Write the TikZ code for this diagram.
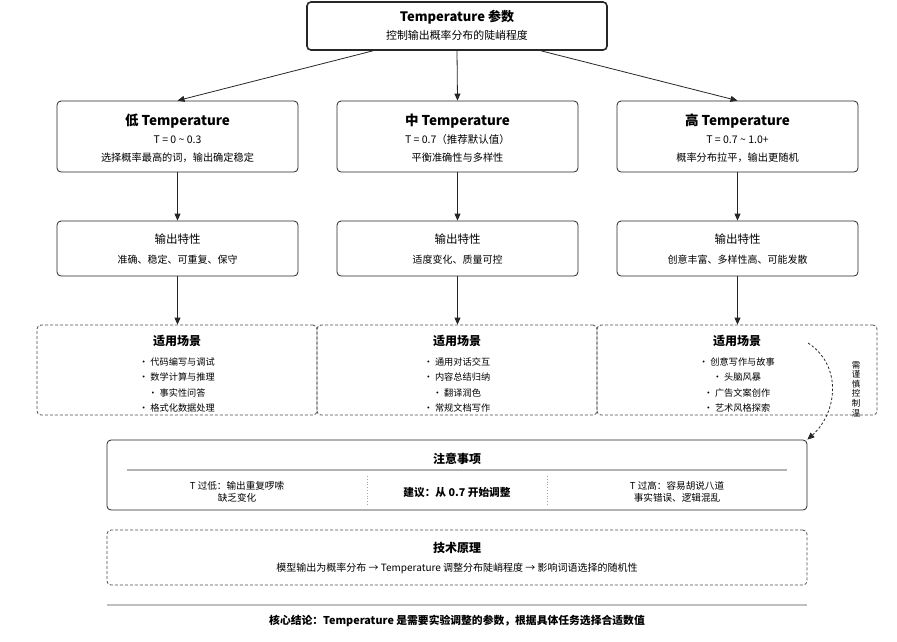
\documentclass[tikz,border=0pt]{standalone}
\usepackage{fontspec}
\setmainfont{Noto Sans CJK SC}
\usetikzlibrary{arrows.meta,calc}
\begin{document}
\begin{tikzpicture}[x=1pt,y=-1pt,
 box/.style={draw=black!85,rounded corners=4pt,line width=0.8pt,inner sep=0pt},
 dbox/.style={draw=black!70,dash pattern=on 3pt off 2pt,rounded corners=4pt,line width=0.8pt,inner sep=0pt},
 arr/.style={-{Triangle[length=7pt,width=6pt]},line width=0.8pt,draw=black!85},
 ttl/.style={inner sep=0pt,font=\bfseries\fontsize{13.5}{15}\selectfont},
 hd3/.style={inner sep=0pt,font=\bfseries\fontsize{12}{14}\selectfont},
 sub/.style={inner sep=0pt,font=\fontsize{10.2}{12}\selectfont},
 tval/.style={inner sep=0pt,font=\fontsize{10.5}{12}\selectfont},
 hd/.style={inner sep=0pt,font=\fontsize{11.5}{13}\selectfont},
 item/.style={inner sep=0pt,font=\fontsize{9.2}{15.4}\selectfont,align=center},
 sep/.style={draw=black!30,line width=1.5pt},
 dsep/.style={draw=black!35,dotted,line width=0.8pt},
]
\useasboundingbox (0,0) rectangle (897,641);

% top
\node[box,line width=1.6pt,minimum width=300pt,minimum height=48pt] (top) at (457,26) {};
\node[inner sep=0pt,font=\bfseries\fontsize{13}{15}\selectfont] (toptitle) at (457,17) {Temperature 参数};
\node[inner sep=0pt,font=\fontsize{10.9}{12}\selectfont] (topsub) at (457,35) {控制输出概率分布的陡峭程度};

% row 1
\foreach \n/\x in {low/177.5,mid/457.5,high/737.5}{
  \node[box,minimum width=241pt,minimum height=71pt] (\n) at (\x,136.5) {};
}
\node[ttl] (lowt) at (177.5,121) {低 Temperature};
\node[tval] (lowv) at (177.5,139.5) {T = 0 \textasciitilde{} 0.3};
\node[sub] (lowd) at (177.5,157.5) {选择概率最高的词，输出确定稳定};
\node[ttl] (midt) at (457.5,121) {中 Temperature};
\node[tval] (midv) at (457.5,139.5) {T = 0.7（推荐默认值）};
\node[sub] (midd) at (457.5,157.5) {平衡准确性与多样性};
\node[ttl] (hight) at (737.5,121) {高 Temperature};
\node[tval] (highv) at (737.5,139.5) {T = 0.7 \textasciitilde{} 1.0+};
\node[sub] (highd) at (737.5,157.5) {概率分布拉平，输出更随机};

\draw[arr] ([xshift=-84pt]top.south) -- (low.north);
\draw[arr] (top.south) -- (mid.north);
\draw[arr] ([xshift=84pt]top.south) -- (high.north);

% row 2
\foreach \n/\x in {lowo/177.5,mido/457.5,higho/737.5}{
  \node[box,minimum width=241pt,minimum height=55pt] (\n) at (\x,248.5) {};
}
\node[hd] (lowoh) at (177.5,239) {输出特性};
\node[sub,font=\fontsize{10}{12}\selectfont] (lowos) at (177.5,259.5) {准确、稳定、可重复、保守};
\node[hd] (midoh) at (457.5,239) {输出特性};
\node[sub,font=\fontsize{10}{12}\selectfont] (midos) at (457.5,259.5) {适度变化、质量可控};
\node[hd] (highoh) at (737.5,239) {输出特性};
\node[sub,font=\fontsize{10}{12}\selectfont] (highos) at (737.5,259.5) {创意丰富、多样性高、可能发散};

\draw[arr] (low.south) -- (lowo.north);
\draw[arr] (mid.south) -- (mido.north);
\draw[arr] (high.south) -- (higho.north);

% row 3
\node[dbox,minimum width=280pt,minimum height=90pt] (lows) at (177,370) {};
\node[dbox,minimum width=280pt,minimum height=90pt] (mids) at (457,370) {};
\node[dbox,minimum width=280pt,minimum height=90pt] (highs) at (737,370) {};

\draw[arr] (lowo.south) -- (lowo.south |- lows.north);
\draw[arr] (mido.south) -- (mido.south |- mids.north);
\draw[arr] (higho.south) -- (higho.south |- highs.north);

\node[hd3] (lowsh) at (177,341) {适用场景};
\node[item,anchor=north] (lowsi) at (177,357.5) {· 代码编写与调试\\· 数学计算与推理\\· 事实性问答\\· 格式化数据处理};
\node[hd3] (midsh) at (457,341) {适用场景};
\node[item,anchor=north] (midsi) at (457,357.5) {· 通用对话交互\\· 内容总结归纳\\· 翻译润色\\· 常规文档写作};
\node[hd3] (highsh) at (737,341) {适用场景};
\node[item,anchor=north] (highsi) at (737,357.5) {· 创意写作与故事\\· 头脑风暴\\· 广告文案创作\\· 艺术风格探索};

% notes box
\node[box,minimum width=700pt,minimum height=70pt] (note) at (457,475) {};
\node[hd3] (noteh) at (457,459) {注意事项};
\coordinate (nl) at (127,470);
\coordinate (nr) at (787,470);
\draw[sep] (nl) -- (nr);
\coordinate (s1a) at (367,476);
\coordinate (s1b) at (367,506);
\coordinate (s2a) at (547,476);
\coordinate (s2b) at (547,506);
\draw[dsep] (s1a) -- (s1b);
\draw[dsep] (s2a) -- (s2b);
\node[inner sep=0pt,align=center,font=\fontsize{9.6}{12}\selectfont] (notel) at (237,492) {T 过低：输出重复啰嗦\\缺乏变化};
\node[inner sep=0pt,font=\bfseries\fontsize{10.7}{12}\selectfont] (notem) at (457,492) {建议：从 0.7 开始调整};
\node[inner sep=0pt,align=center,font=\fontsize{9.6}{12}\selectfont] (noter) at (677,492) {T 过高：容易胡说八道\\事实错误、逻辑混乱};

% curved dashed arrow
\coordinate (cstart) at (808,343);
\draw[arr,dash pattern=on 2.5pt off 2pt] (cstart) .. controls (842,365) and (838,412) .. (note.north east);
\node[inner sep=0pt,align=center,font=\fontsize{8.5}{9.6}\selectfont] (clabel) at (856,389) {需\\谨\\慎\\控\\制\\温};

% tech box
\node[dbox,minimum width=700pt,minimum height=55pt] (tech) at (457,557.5) {};
\node[hd3] (techh) at (457,548) {技术原理};
\node[inner sep=0pt,font=\fontsize{10}{12}\selectfont] (techs) at (457,568) {模型输出为概率分布 → Temperature 调整分布陡峭程度 → 影响词语选择的随机性};

% bottom
\coordinate (bl) at (107,605);
\coordinate (br) at (807,605);
\draw[draw=black!25,line width=1.5pt] (bl) -- (br);
\node[inner sep=0pt,font=\bfseries\fontsize{10.8}{12}\selectfont] (concl) at (457,621) {核心结论：Temperature 是需要实验调整的参数，根据具体任务选择合适数值};
\end{tikzpicture}
\end{document}
